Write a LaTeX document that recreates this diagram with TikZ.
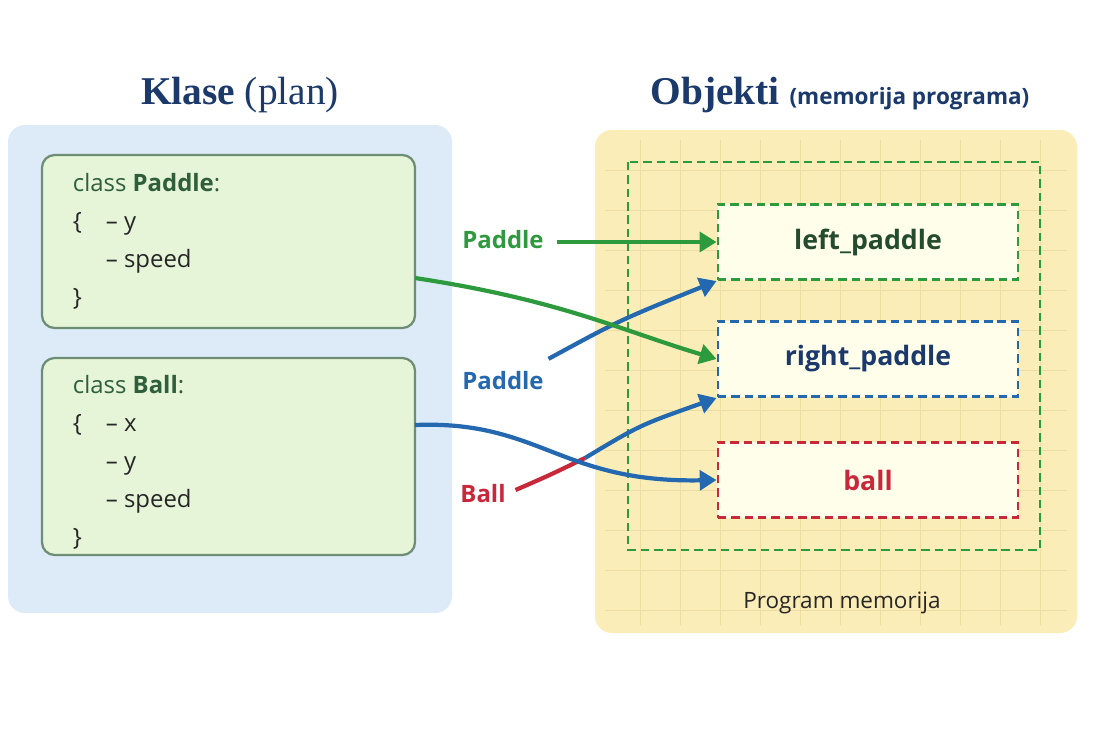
\documentclass[tikz,border=0pt]{standalone}
\usepackage{fontspec}
\setsansfont{Open Sans}
\setmainfont{Liberation Serif}
\usetikzlibrary{arrows.meta}
\definecolor{titleblue}{HTML}{1B3A6B}
\definecolor{pgreen}{HTML}{2E9A3E}
\definecolor{pblue}{HTML}{2468B0}
\definecolor{pred}{HTML}{C8283A}
\definecolor{codegreen}{HTML}{2F5E3A}
\definecolor{panelblue}{HTML}{DDEBF8}
\definecolor{panelyellow}{HTML}{FBEDB8}
\definecolor{gridline}{HTML}{EEDDA0}
\definecolor{boxgreen}{HTML}{E6F4D8}
\begin{document}
\begin{tikzpicture}[
	x=0.025cm, y=-0.025cm,
	font=\sffamily,
	panel/.style={
		draw=none,
		rounded corners=12pt
	},
	classbox/.style={
		draw=codegreen!70,
		fill=boxgreen,
		line width=1.6pt,
		rounded corners=9pt
	},
	longdash/.style={
		dash pattern=on 6pt off 3.5pt,
		line width=2pt
	},
	objbox/.style={
		longdash,
		fill=yellow!8,
		minimum width=7.5cm,
		minimum height=1.88cm,
		font=\sffamily\bfseries\fontsize{19}{22}\selectfont
	},
	code/.style={
		anchor=north west,
		align=left,
		text=black!85,
		font=\sffamily\fontsize{17}{27}\selectfont
	},
	link/.style={
		line width=3pt,
		-{Triangle[length=12pt,width=14pt]}
	},
	refname/.style={
		font=\sffamily\bfseries\fontsize{17}{20}\selectfont
	}
]
\useasboundingbox (0,0) rectangle (1100,733);
\fill[white] (0,0) rectangle (1100,733);

% titles
\node[text=titleblue, font=\rmfamily] (tclass) at (240,95)
	{\fontsize{28}{32}\selectfont\bfseries Klase \mdseries(plan)};
\node[text=titleblue, font=\rmfamily] (tobj) at (840,95)
	{\fontsize{28}{32}\selectfont\bfseries Objekti \sffamily\fontsize{16}{20}\selectfont(memorija programa)};

% panels
\fill[panel, panelblue] (8,125) rectangle (452,613);
\fill[panel, panelyellow] (595,130) rectangle (1077,633);
\draw[gridline, line width=0.5pt] \foreach \gx in {640,680,...,1040} {(\gx,140) -- (\gx,625)}
	\foreach \gy in {170,210,...,610} {(605,\gy) -- (1067,\gy)};
\draw[pgreen, longdash] (628,162) rectangle (1040,550);

% classes
\draw[classbox] (42,155) rectangle (415,328);
\draw[classbox] (42,358) rectangle (415,555);
\node[code] (cpaddle) at (68,168)
	{\textcolor{codegreen}{class \textbf{Paddle}:}\\
	 \{\quad -- y\\
	 \phantom{\{}\quad -- speed\\
	 \}};
\node[code] (cball) at (68,370)
	{\textcolor{codegreen}{class \textbf{Ball}:}\\
	 \{\quad -- x\\
	 \phantom{\{}\quad -- y\\
	 \phantom{\{}\quad -- speed\\
	 \}};
\coordinate (paddleout) at (415,278);
\coordinate (ballout) at (415,425);

% objects
\node[objbox, draw=pgreen, text=codegreen!80!black] (lp) at (868,242) {left\_paddle};
\node[objbox, draw=pblue, text=titleblue] (rp) at (868,359) {right\_paddle};
\node[objbox, draw=pred, text=pred] (bl) at (868,480) {ball};
\node[font=\sffamily\fontsize{16}{19}\selectfont, text=black!85] (mem) at (842,603) {Program memorija};

% references
\node[refname, text=pgreen] (r1) at (503,240) {Paddle};
\node[refname, text=pblue] (r2) at (503,381) {Paddle};
\node[refname, text=pred] (r3) at (483,494) {Ball};

\draw[link, pgreen] (r1.east) ++(8,2) -- (lp.west);
\draw[link, pblue] (r2.north east) ++(0,-8) .. controls (620,320) .. (lp.south west);
\draw[pred, line width=3pt] (r3.east) ++(5,-4) .. controls (550,475) .. (585,458);
\draw[link, pblue] (585,458) .. controls (640,425) .. (rp.south west);
\draw[link, pgreen] (paddleout) .. controls (560,300) and (620,330) .. (rp.west);
\draw[link, pblue] (ballout) .. controls (540,420) and (560,483) .. (bl.west);
\end{tikzpicture}
\end{document}
